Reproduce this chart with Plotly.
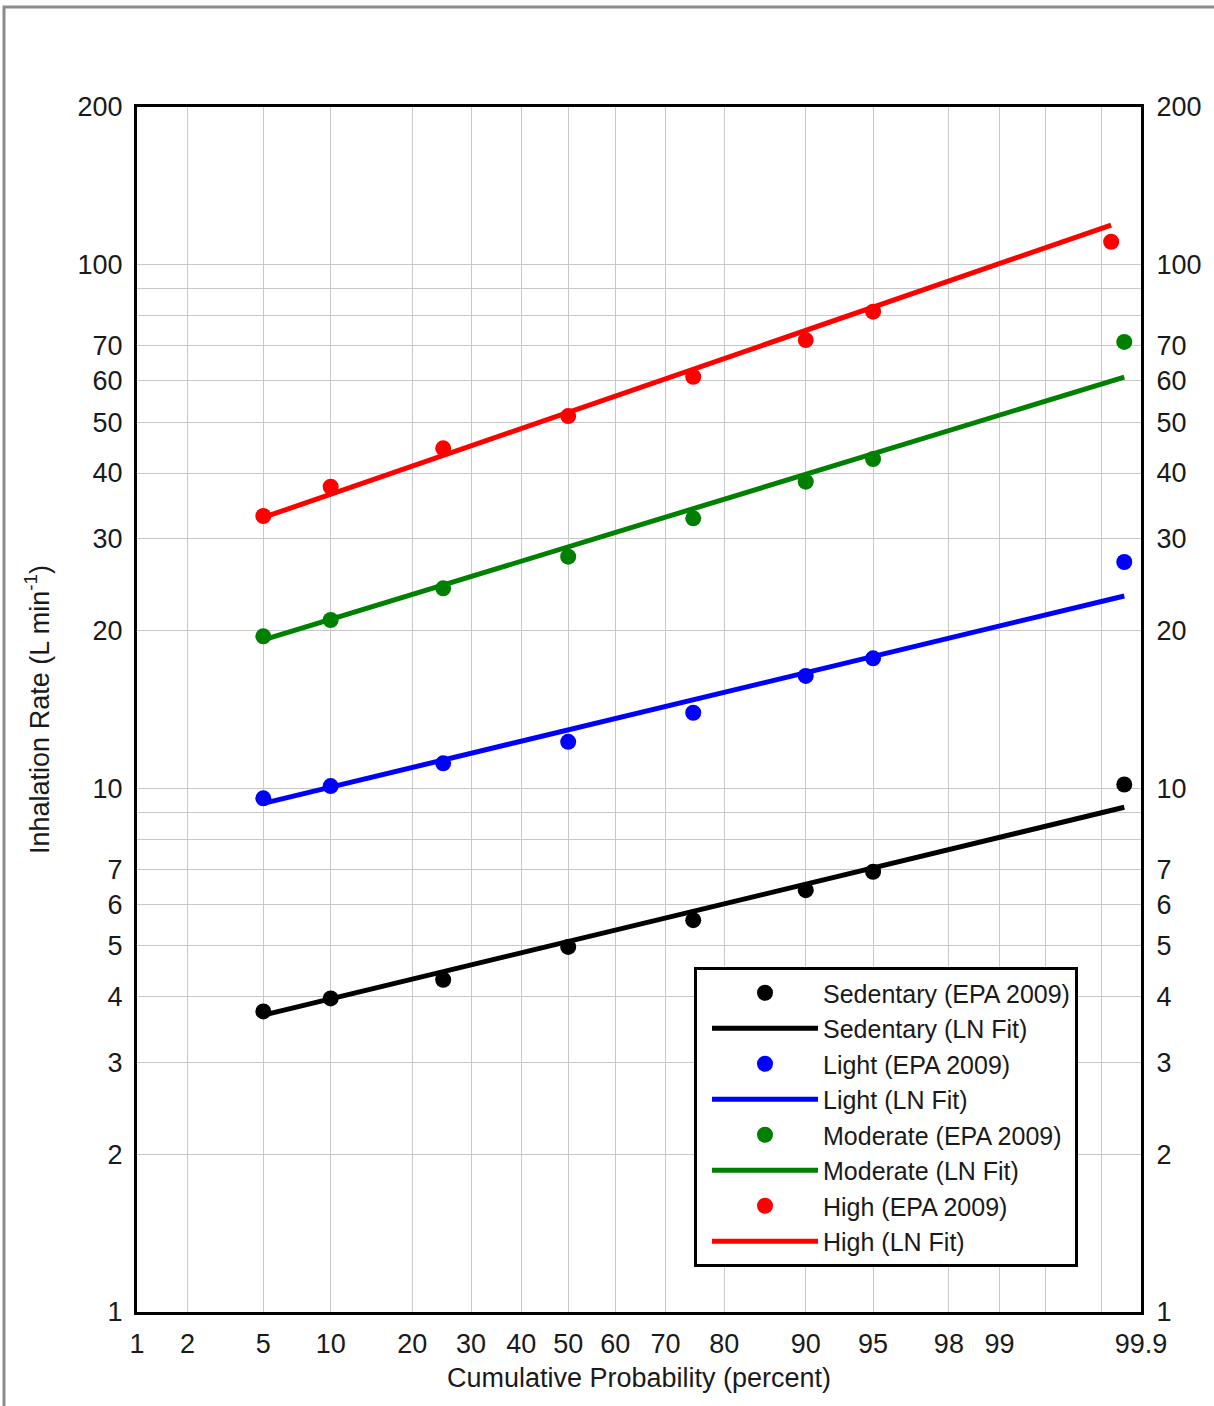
import plotly.graph_objects as go
from statistics import NormalDist

# Cumulative probability (percent) of the tabulated EPA 2009 percentiles
pct = [5, 10, 25, 50, 75, 90, 95]
# Plotting position of each group's maximum value
pct_max = [99.865, 99.865, 99.865, 99.83]

levels = ["Sedentary", "Light", "Moderate", "High"]
colors = ["#000000", "#0000ff", "#008000", "#ff0000"]

# Inhalation rates (L/min): 5th..95th percentiles followed by the maximum
sedentary = [3.75, 3.97, 4.31, 4.98, 5.60, 6.39, 6.93, 10.17]
light = [9.57, 10.10, 11.16, 12.27, 13.94, 16.39, 17.71, 27.05]
moderate = [19.51, 20.96, 24.09, 27.69, 32.78, 38.51, 42.55, 71.2]
high = [33.11, 37.66, 44.59, 51.39, 61.09, 71.78, 81.33, 110.6]

# Lognormal fit evaluated at 5 % and at the maximum's plotting position
fit_low = [3.69, 9.36, 19.2, 32.9]
fit_high = [9.2, 23.3, 61.0, 119.0]

# Labelled probability ticks and the extra unlabelled grid lines
x_ticks = [1, 2, 5, 10, 20, 30, 40, 50, 60, 70, 80, 90, 95, 98, 99, 99.9]
x_tick_text = ["1", "2", "5", "10", "20", "30", "40", "50", "60", "70", "80",
               "90", "95", "98", "99", "99.9"]
x_grid_extra = [99.5, 99.8]
y_ticks = [1, 2, 3, 4, 5, 6, 7, 10, 20, 30, 40, 50, 60, 70, 100, 200]
y_tick_text = ["1", "2", "3", "4", "5", "6", "7", "10", "20", "30", "40",
               "50", "60", "70", "100", "200"]
y_grid_extra = [8, 9, 80, 90]

FONT = "Liberation Sans, Arial, sans-serif"
TXT = "#1a1a1a"
GRID = "#c8c8c8"

nd = NormalDist()


def probit(p):
    """Normal-probability scale position of a cumulative percentage."""
    return nd.inv_cdf(p / 100.0)


series = [sedentary, light, moderate, high]

fig = go.Figure()
for name, color, vals, pmax, lo, hi in zip(levels, colors, series, pct_max, fit_low, fit_high):
    xs = [probit(p) for p in pct + [pmax]]
    fig.add_trace(go.Scatter(
        x=xs, y=vals, mode="markers", name=f"{name} (EPA 2009)",
        marker=dict(color=color, size=16, line=dict(width=0)),
    ))
    fig.add_trace(go.Scatter(
        x=[probit(pct[0]), probit(pmax)], y=[lo, hi], mode="lines",
        name=f"{name} (LN Fit)", line=dict(color=color, width=5),
    ))

# invisible trace that carries the mirrored right-hand axis
fig.add_trace(go.Scatter(
    x=[probit(50)], y=[10], yaxis="y2", mode="markers",
    marker=dict(opacity=0), showlegend=False, hoverinfo="skip",
))

x_range = [probit(x_ticks[0]), probit(x_ticks[-1])]
y_range = [0, 2.30103]

axis_font = dict(family=FONT, size=27, color=TXT)

fig.update_layout(
    width=1214, height=1406,
    margin=dict(l=137, r=73, t=107, b=94),
    paper_bgcolor="white", plot_bgcolor="white",
    font=dict(family=FONT, size=27, color=TXT),
    xaxis=dict(
        range=x_range, tickmode="array",
        tickvals=[probit(p) for p in x_ticks], ticktext=x_tick_text,
        minor=dict(tickmode="array", tickvals=[probit(p) for p in x_grid_extra],
                   showgrid=True, gridcolor=GRID, gridwidth=1, ticks=""),
        showgrid=True, gridcolor=GRID, gridwidth=1, zeroline=False,
        showline=True, mirror=True, linecolor="black", linewidth=3,
        ticks="", tickfont=axis_font, ticklabelstandoff=6,
        title=dict(text="Cumulative Probability (percent)", font=axis_font, standoff=10),
    ),
    yaxis=dict(
        type="log", range=y_range, tickmode="array",
        tickvals=y_ticks, ticktext=y_tick_text,
        minor=dict(tickmode="array", tickvals=y_grid_extra,
                   showgrid=True, gridcolor=GRID, gridwidth=1, ticks=""),
        showgrid=True, gridcolor=GRID, gridwidth=1, zeroline=False,
        showline=True, mirror=True, linecolor="black", linewidth=3,
        ticks="", tickfont=axis_font, ticklabelstandoff=6,
        title=dict(text="Inhalation Rate (L min<sup>-1</sup>)", font=axis_font, standoff=21),
    ),
    yaxis2=dict(
        type="log", range=y_range, overlaying="y", side="right",
        tickmode="array", tickvals=y_ticks, ticktext=y_tick_text,
        showgrid=False, zeroline=False,
        showline=True, linecolor="black", linewidth=3,
        ticks="", tickfont=axis_font, ticklabelstandoff=7,
    ),
    legend=dict(
        x=(694 - 137) / 1004, y=(1312 - 967) / 1205,
        xanchor="left", yanchor="top",
        bgcolor="white", bordercolor="black", borderwidth=3,
        font=dict(family=FONT, size=25, color=TXT),
        itemwidth=106, indentation=10, tracegroupgap=0,
    ),
    shapes=[dict(
        type="rect", xref="paper", yref="paper",
        x0=(4 - 137) / 1004, x1=(1230 - 137) / 1004,
        y0=(1312 - 1420) / 1205, y1=(1312 - 7) / 1205,
        line=dict(color="#8c8c8c", width=3), fillcolor="rgba(0,0,0,0)",
        layer="below",
    )],
    showlegend=True,
)

fig.write_html("out.html")
